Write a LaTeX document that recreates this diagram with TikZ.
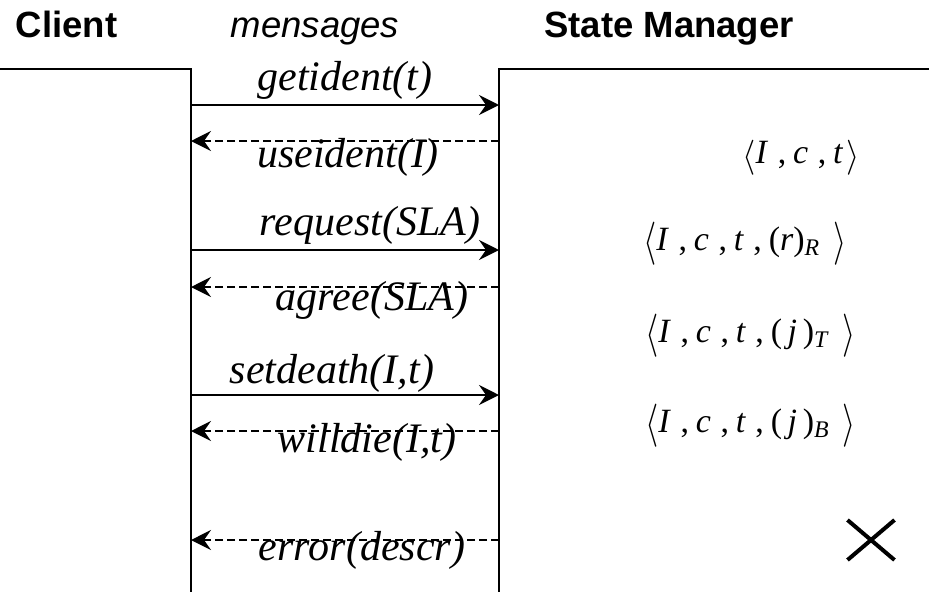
\documentclass[tikz,border=0pt]{standalone}
\usepackage{fix-cm}
\usepackage{graphicx}
\usepackage{fontspec}
\setmainfont{Liberation Serif}
\setsansfont{Liberation Sans}
\usetikzlibrary{arrows.meta,positioning,shapes.misc}

\newcommand{\tsep}{\hspace{.28em},\hspace{.2em}}
\newcommand{\lang}[2]{\raisebox{#2}{\scalebox{1}[#1]{$\langle$}}}
\newcommand{\rang}[2]{\raisebox{#2}{\scalebox{1}[#1]{$\rangle$}}}

\begin{document}
\begin{tikzpicture}[x=1pt,y=-1pt,
  head/.style={font=\fontsize{36.5}{40}\selectfont\sffamily\bfseries,
    anchor=base, inner sep=0pt},
  msglbl/.style={font=\fontsize{42}{46}\selectfont\itshape,
    anchor=base, inner sep=0pt},
  tuple/.style={font=\fontsize{34}{38}\selectfont, inner sep=0pt},
  life/.style={line width=1.6pt},
  call/.style={line width=1.6pt,
    -{Stealth[length=20pt,width=20pt,inset=7pt]}},
  reply/.style={call, dash pattern=on 8pt off 4pt}
]
\useasboundingbox (0,0) rectangle (929,592);

% headers
\node[head] (client) at (66.5,37) {Client};
\node[head, font=\fontsize{36.5}{40}\selectfont\sffamily\itshape] (msgs) at (315,37) {mensages};
\node[head] (sm) at (669,37) {State Manager};

% lifelines
\coordinate (ctop) at (191,69);
\coordinate (stop) at (499,69);
\draw[life] (0,69) -- (ctop) -- (191,592);
\draw[life] (929,69) -- (stop) -- (499,592);

% message end points
\foreach \n/\y in {1/105,2/141,3/250,4/287,5/395,6/431,7/540}{
  \coordinate (c\n) at (191,\y);
  \coordinate (s\n) at (499,\y);
}

\draw[call]  (c1) -- (s1);
\draw[reply] (s2) -- (c2);
\draw[call]  (c3) -- (s3);
\draw[reply] (s4) -- (c4);
\draw[call]  (c5) -- (s5);
\draw[reply] (s6) -- (c6);
\draw[reply] (s7) -- (c7);

\node[msglbl] (getid) at (345,90) {getident(t)};
\node[msglbl] (useid) at (348,167) {useident(I)};
\node[msglbl] (req) at (370,235) {request(SLA)};
\node[msglbl] (agr) at (372,310) {agree(SLA)};
\node[msglbl] (setd) at (332,383) {setdeath(I,t)};
\node[msglbl] (willd) at (367,452) {willdie(I,t)};
\node[msglbl] (err) at (362,560) {error(descr)};

% state tuples
\node[tuple, anchor=base east] (st1) at (860,163)
  {\lang{1.03}{-3pt}\textit{I}\tsep\textit{c}\tsep\textit{t}\hspace{.1em}\rang{1.03}{-3pt}};
\node[tuple, anchor=base west] (st2) at (643,250)
  {\lang{1.27}{-4pt}\textit{I}\tsep\textit{c}\tsep\textit{t}\tsep(\textit{r})\textsubscript{\textit{R}}\hspace{.4em}\rang{1.27}{-4pt}};
\node[tuple, anchor=base west] (st3) at (645,342)
  {\lang{1.27}{-4pt}\textit{I}\tsep\textit{c}\tsep\textit{t}\tsep(\,\textit{j}\,)\textsubscript{\textit{T}}\hspace{.4em}\rang{1.27}{-4pt}};
\node[tuple, anchor=base west] (st4) at (645,432)
  {\lang{1.27}{-4pt}\textit{I}\tsep\textit{c}\tsep\textit{t}\tsep(\,\textit{j}\,)\textsubscript{\textit{B}}\hspace{.4em}\rang{1.27}{-4pt}};

\node[cross out, draw, line width=4pt, minimum width=43pt,
  minimum height=36pt, inner sep=0pt] (dead) at (871,540) {};

\end{tikzpicture}
\end{document}
